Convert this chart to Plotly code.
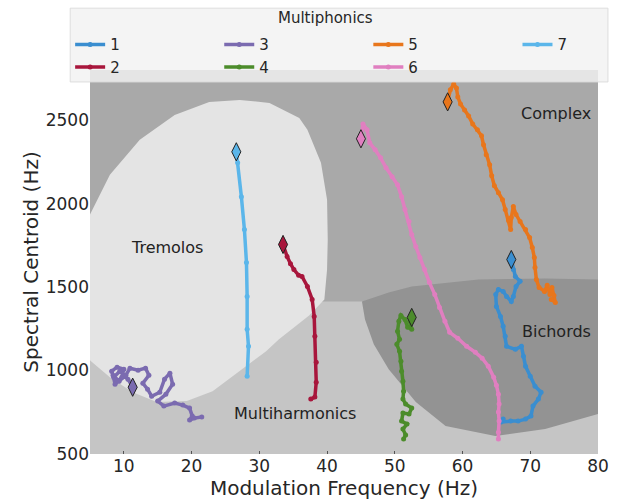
import plotly.graph_objects as go

# ---------------- axes ----------------
x_range = [5, 80]
y_range = [500, 2800]
x_ticks = [10, 20, 30, 40, 50, 60, 70, 80]
y_ticks = [500, 1000, 1500, 2000, 2500]

# ---------------- series (modulation frequency Hz, spectral centroid Hz) ----------------
series_names = ["1", "2", "3", "4", "5", "6", "7"]
series_colors = ["#3a8ed0", "#a8163c", "#7b6bb0", "#4c8c2b", "#e8761c", "#e07fc0", "#5bb6ea"]
# legend column of each series (matplotlib ncol=4 fills column-wise)
series_legend = ["legend", "legend", "legend2", "legend2", "legend3", "legend3", "legend4"]

mf_1 = [67.2, 67.5, 67.8, 68.5, 67.9, 67.5, 67.2, 66.5, 66.0, 65.3, 64.9, 65.0, 65.6, 66.0, 66.3, 66.5,
        67.8, 68.7, 69.0, 69.3, 70.0, 70.7, 71.6, 71.2, 70.4, 70.1, 69.3, 68.2, 67.1, 65.7, 66.0]
sc_1 = [1665, 1605, 1563, 1534, 1504, 1444, 1414, 1444, 1474, 1486, 1456, 1384, 1324, 1265, 1205, 1145,
        1127, 1145, 1085, 1026, 966, 906, 870, 829, 787, 727, 709, 697, 697, 691, 709]

mf_2 = [33.5, 34.1, 34.6, 35.1, 35.8, 36.3, 37.1, 37.8, 38.1, 38.2, 38.4, 38.4, 38.2, 37.6]
sc_2 = [1755, 1683, 1640, 1605, 1570, 1563, 1504, 1426, 1324, 1205, 1050, 930, 841, 829]

mf_3 = [11.3, 10.6, 9.4, 8.5, 8.2, 9.0, 10.0, 9.7, 8.7, 8.4, 9.3, 10.3, 10.9, 12.1, 13.2, 13.7, 12.8,
        13.5, 14.1, 15.3, 16.0, 16.8, 17.2, 16.2, 15.0, 15.9, 17.5, 18.7, 19.7, 20.1, 19.7, 20.4, 21.5]
sc_3 = [900, 948, 996, 960, 996, 1020, 1008, 960, 918, 972, 936, 972, 1014, 1002, 1014, 972, 924,
        888, 846, 870, 948, 984, 918, 858, 817, 787, 805, 793, 775, 727, 703, 715, 721]

mf_4 = [52.5, 52.2, 52.5, 51.9, 51.5, 50.9, 50.6, 50.4, 50.7, 50.3, 50.7, 50.9, 51.0, 51.2, 51.3, 51.2,
        51.6, 52.5, 52.1, 51.2, 51.0, 51.8, 51.2, 51.6, 51.3]
sc_4 = [1318, 1295, 1247, 1259, 1306, 1330, 1295, 1235, 1187, 1157, 1115, 1056, 996, 936, 876, 829,
        799, 775, 739, 745, 697, 679, 649, 614, 590]

mf_5 = [57.8, 58.2, 58.7, 59.1, 59.3, 59.7, 60.3, 60.9, 61.5, 62.2, 62.8, 63.1, 63.5, 64.0, 64.3, 64.7,
        65.3, 65.9, 66.3, 66.8, 67.1, 67.2, 67.5, 67.9, 68.5, 69.3, 69.9, 70.3, 70.6, 70.7, 70.9, 71.3,
        72.1, 72.5, 72.9, 73.2, 73.5, 73.7, 73.1]
sc_5 = [2609, 2681, 2716, 2692, 2639, 2597, 2561, 2525, 2477, 2442, 2406, 2352, 2292, 2232, 2167, 2107,
        2065, 2023, 1964, 1898, 1844, 1916, 1982, 1934, 1892, 1844, 1796, 1737, 1677, 1617, 1545, 1498,
        1474, 1510, 1456, 1498, 1450, 1408, 1426]

mf_6 = [45.0, 45.3, 45.9, 46.3, 47.1, 47.9, 48.7, 49.6, 50.4, 51.0, 51.5, 52.1, 52.5, 53.1, 53.7, 54.4,
        55.1, 55.9, 56.6, 57.4, 58.1, 59.3, 60.6, 61.9, 62.9, 63.8, 64.6, 65.0, 65.3, 65.4, 65.3, 65.4,
        65.3, 65.3]
sc_6 = [2388, 2477, 2442, 2364, 2322, 2274, 2215, 2161, 2113, 2041, 1964, 1892, 1814, 1743, 1677, 1605,
        1528, 1456, 1378, 1295, 1229, 1193, 1145, 1109, 1074, 1026, 960, 912, 858, 799, 751, 697,
        631, 590]

mf_7 = [26.6, 26.8, 27.35, 27.8, 28.1, 28.2, 28.2, 28.4, 28.2]
sc_7 = [2310, 2244, 2041, 1844, 1647, 1444, 1247, 1145, 966]

series_x = [mf_1, mf_2, mf_3, mf_4, mf_5, mf_6, mf_7]
series_y = [sc_1, sc_2, sc_3, sc_4, sc_5, sc_6, sc_7]

# ---------------- class regions (boundaries in data units) ----------------
region_colors = {"Complex": "#a9a9a9", "Multiharmonics": "#c5c5c5",
                 "Tremolos": "#e4e4e4", "Bichords": "#939393"}

multiharm_x = [4, 81, 81, 4]
multiharm_y = [490, 490, 1414, 1414]

tremolo_x = [4.0, 5.0, 7.94, 12.35, 17.5, 22.6, 27.1, 31.5, 35.9, 37.1, 39.1, 40.0, 40.1, 40.0, 39.6,
             37.35, 35.15, 32.9, 31.0, 28.5, 25.3, 23.1, 19.3, 14.85, 11.3, 7.94, 5.15, 4.0]
tremolo_y = [1853, 1934, 2173, 2382, 2531, 2609, 2621, 2603, 2513, 2442, 2244, 2023, 1784, 1605, 1426,
             1330, 1259, 1187, 1115, 1038, 942, 876, 817, 811, 870, 960, 1056, 1096]

bichord_x = [45.15, 45.6, 46.9, 49.1, 53.1, 57.5, 64.85, 72.2, 80.0, 81.0, 81.0, 80.1, 72.2, 62.35, 52.5, 49.1]
bichord_y = [1414, 1306, 1157, 1008, 811, 667, 608, 649, 739, 745, 1545, 1545, 1551, 1545, 1504, 1468]

region_labels = ["Tremolos", "Complex", "Bichords", "Multiharmonics"]
label_x = [16.3, 73.8, 73.8, 35.3]
label_y = [1737, 2537, 1235, 745]

legend_title = "Multiphonics"

FONT = "DejaVu Sans"
fig = go.Figure()

for rx, ry, name in [(multiharm_x, multiharm_y, "Multiharmonics"),
                     (tremolo_x, tremolo_y, "Tremolos"),
                     (bichord_x, bichord_y, "Bichords")]:
    fig.add_trace(go.Scatter(x=rx, y=ry, mode="lines", fill="toself",
                             fillcolor=region_colors[name], line=dict(width=0, color=region_colors[name]),
                             showlegend=False, hoverinfo="skip"))

for name, xs, ys, col, lg in zip(series_names, series_x, series_y, series_colors, series_legend):
    fig.add_trace(go.Scatter(x=xs, y=ys, mode="lines+markers", name=name, legend=lg,
                             line=dict(color=col, width=3.5), marker=dict(color=col, size=5)))
for xs, ys, col in zip(series_x, series_y, series_colors):
    fig.add_trace(go.Scatter(x=[xs[0]], y=[ys[0]], mode="markers", showlegend=False,
                             marker=dict(symbol="diamond-tall", size=13, color=col,
                                         line=dict(color="#222222", width=1))))

for txt, lx, ly in zip(region_labels, label_x, label_y):
    fig.add_annotation(x=lx, y=ly, xref="x", yref="y", text=txt, showarrow=False,
                       font=dict(family=FONT, size=16, color="#222222"))

# legend frame (semi-transparent, overlapping the top of the axes like matplotlib)
fig.add_shape(type="rect", xref="paper", yref="paper", x0=-0.039, x1=1.0196, y0=0.9688, y1=1.161,
              fillcolor="rgba(242,242,242,0.82)", line=dict(color="rgba(218,218,218,0.9)", width=1),
              layer="above")
fig.add_annotation(x=0.4638, y=1.135, xref="paper", yref="paper", text=legend_title, showarrow=False,
                   xanchor="center", yanchor="middle",
                   font=dict(family=FONT, size=15, color="#262626"))

def legend_col(xp):
    return dict(orientation="v", x=xp, xanchor="left", y=1.109, yanchor="top",
                bgcolor="rgba(0,0,0,0)", borderwidth=0, font=dict(size=15, family=FONT, color="#262626"),
                itemwidth=30, tracegroupgap=0)

fig.update_layout(
    width=621, height=504,
    margin=dict(l=90, r=20, t=70, b=49),
    paper_bgcolor="white",
    plot_bgcolor=region_colors["Complex"],
    font=dict(family=FONT, color="#262626"),
    xaxis=dict(range=x_range, tickvals=x_ticks, showgrid=False, zeroline=False,
               tickfont=dict(size=17), ticks="inside", ticklen=3, tickcolor="#555555",
               title=dict(text="Modulation Frequency (Hz)", font=dict(size=20), standoff=2)),
    yaxis=dict(range=y_range, tickvals=y_ticks, showgrid=False, zeroline=False,
               tickfont=dict(size=17), ticks="",
               title=dict(text="Spectral Centroid (Hz)", font=dict(size=20), standoff=1)),
    legend=legend_col(-0.0391),
    legend2=legend_col(0.2544),
    legend3=legend_col(0.5479),
    legend4=legend_col(0.8415),
)

fig.write_html("out.html")
